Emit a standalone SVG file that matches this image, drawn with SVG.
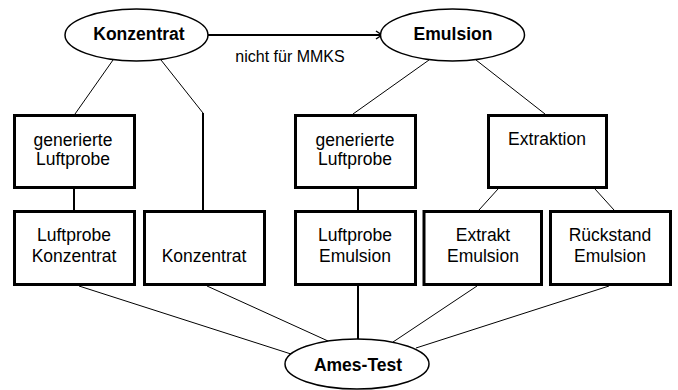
<svg xmlns="http://www.w3.org/2000/svg" width="678" height="390" viewBox="0 0 678 390">
<style>
.box{fill:#fff;stroke:#000;stroke-width:3}
.ell{fill:#fff;stroke:#000;stroke-width:1.5}
.t{font-family:"Liberation Sans",Arial,sans-serif;font-size:17.5px;text-anchor:middle;fill:#000}
.b{font-family:"Liberation Sans",Arial,sans-serif;font-size:17.5px;font-weight:bold;text-anchor:middle;fill:#000}
.lbl{font-family:"Liberation Sans",Arial,sans-serif;font-size:16px;text-anchor:middle;fill:#000}
.thin{fill:none;stroke:#000;stroke-width:1}
.thick{fill:none;stroke:#000;stroke-width:2}
</style>
<defs>
<marker id="arr" markerWidth="10" markerHeight="10" refX="8" refY="5" orient="auto" markerUnits="userSpaceOnUse">
<path d="M2,1 L8,5 L2,9" fill="none" stroke="#000" stroke-width="1.5"/>
</marker>
</defs>
<g id="connectors">
<line class="thick" x1="208" y1="35" x2="382" y2="35" marker-end="url(#arr)"/>
<text class="lbl" x="290" y="62">nicht für MMKS</text>
<line class="thin" x1="113" y1="60" x2="75" y2="114"/>
<polyline class="thin" points="161,60 203,113"/>
<line class="thick" x1="203" y1="113" x2="203" y2="210"/>
<line class="thick" x1="74" y1="189" x2="74" y2="210"/>
<line class="thin" x1="429" y1="60" x2="353" y2="114"/>
<line class="thin" x1="476" y1="60" x2="545" y2="114"/>
<line class="thick" x1="358" y1="189" x2="358" y2="210"/>
<line class="thin" x1="498" y1="189" x2="479" y2="210"/>
<line class="thin" x1="595" y1="189" x2="614" y2="210"/>
<line class="thin" x1="79" y1="286" x2="291" y2="354"/>
<line class="thin" x1="207" y1="286" x2="328" y2="341"/>
<line class="thick" x1="358" y1="286" x2="358" y2="340"/>
<line class="thin" x1="477" y1="286" x2="393" y2="342"/>
<line class="thin" x1="609" y1="286" x2="416" y2="348"/>
</g>
<g id="konzentrat">
<ellipse class="ell" cx="136.5" cy="35" rx="71.5" ry="26"/>
<text class="b" x="139" y="40">Konzentrat</text>
</g>
<g id="emulsion">
<ellipse class="ell" cx="452.5" cy="35" rx="72" ry="26"/>
<text class="b" x="453" y="40">Emulsion</text>
</g>
<g id="gen-luftprobe-1">
<rect class="box" x="14.5" y="115.5" width="120" height="72"/>
<text class="t" x="73"><tspan x="73" y="146">generierte</tspan><tspan x="73" y="165">Luftprobe</tspan></text>
</g>
<g id="gen-luftprobe-2">
<rect class="box" x="295.5" y="115.5" width="120" height="72"/>
<text class="t"><tspan x="355" y="146">generierte</tspan><tspan x="355" y="165">Luftprobe</tspan></text>
</g>
<g id="extraktion">
<rect class="box" x="488.5" y="115.5" width="118" height="72"/>
<text class="t" x="547" y="145">Extraktion</text>
</g>
<g id="luftprobe-konzentrat">
<rect class="box" x="14.5" y="211.5" width="120" height="73"/>
<text class="t"><tspan x="74" y="241">Luftprobe</tspan><tspan x="74" y="261.5">Konzentrat</tspan></text>
</g>
<g id="konzentrat-box">
<rect class="box" x="144.5" y="211.5" width="120" height="73"/>
<text class="t" x="204" y="261.5">Konzentrat</text>
</g>
<g id="luftprobe-emulsion">
<rect class="box" x="295.5" y="211.5" width="120" height="73"/>
<text class="t"><tspan x="355" y="241">Luftprobe</tspan><tspan x="355" y="261.5">Emulsion</tspan></text>
</g>
<g id="extrakt-emulsion">
<rect class="box" x="424" y="211.5" width="117.5" height="73"/>
<text class="t"><tspan x="483" y="241">Extrakt</tspan><tspan x="483" y="261.5">Emulsion</tspan></text>
</g>
<g id="rueckstand-emulsion">
<rect class="box" x="550.5" y="211.5" width="120" height="73"/>
<text class="t"><tspan x="610" y="241">Rückstand</tspan><tspan x="610" y="261.5">Emulsion</tspan></text>
</g>
<g id="ames-test">
<ellipse class="ell" cx="357" cy="364" rx="72" ry="25"/>
<text class="b" x="358" y="371">Ames-Test</text>
</g>
</svg>
